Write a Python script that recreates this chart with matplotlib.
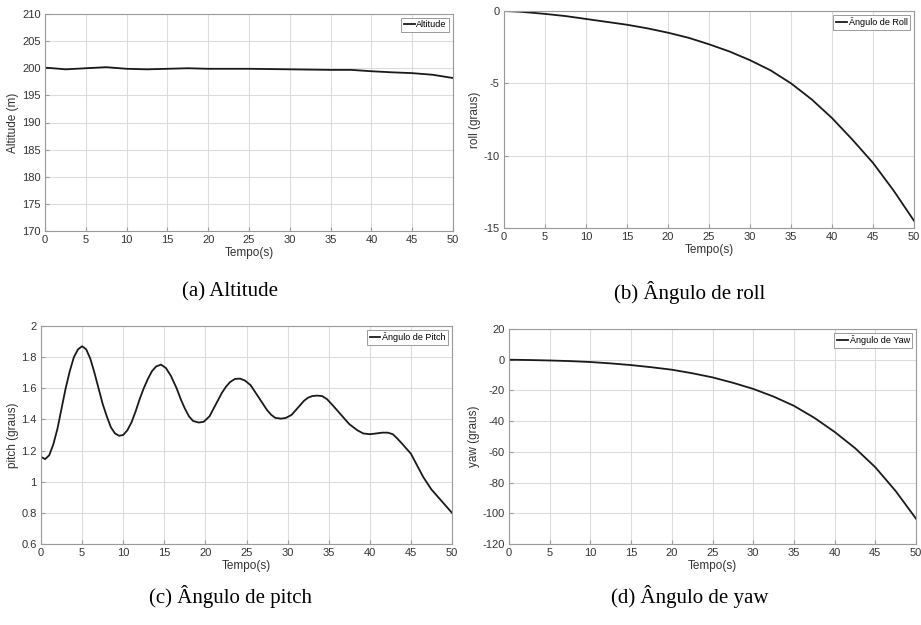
import matplotlib.pyplot as plt

plt.rcParams['font.family'] = ['Liberation Sans', 'DejaVu Sans']

# Altitude (m)
alt_t = [0, 1, 2.5, 5, 7.5, 10, 12.5, 15, 17.5, 20, 25, 30, 35, 37.5, 40, 42.5, 45, 47.5, 50]
alt_v = [200.1, 200.0, 199.8, 200.0, 200.2, 199.9, 199.8, 199.9, 200.0, 199.9, 199.9, 199.8, 199.7,
         199.7, 199.45, 199.25, 199.1, 198.8, 198.2]

# roll (graus)
roll_t = [0, 2, 5, 7.5, 10, 12.5, 15, 17.5, 20, 22.5, 25, 27.5, 30, 32.5, 35, 37.5, 40, 42.5, 45, 47.5, 50]
roll_v = [0, -0.05, -0.2, -0.35, -0.55, -0.75, -0.95, -1.2, -1.5, -1.85, -2.3, -2.8, -3.4, -4.1,
          -5.0, -6.1, -7.4, -8.9, -10.5, -12.4, -14.5]

# pitch (graus)
pitch_t = [0, 0.5, 1, 1.5, 2, 2.5, 3, 3.5, 4, 4.5, 5, 5.5, 6, 6.5, 7, 7.5, 8, 8.5, 9, 9.5,
           10, 10.5, 11, 11.5, 12, 12.5, 13, 13.5, 14, 14.6, 15.2, 15.8, 16.5, 17, 17.5, 18, 18.5,
           19.2, 19.8, 20.5, 21, 21.5, 22, 22.5, 23, 23.6, 24.2, 24.8, 25.5, 26, 26.5, 27, 27.5,
           28, 28.5, 29.2, 29.8, 30.5, 31, 31.5, 32, 32.5, 33, 33.6, 34.2, 34.8, 35.5, 36, 36.5,
           37, 37.5, 38, 38.5, 39.2, 40, 40.8, 41.5, 42.2, 42.8, 43.3, 44, 44.5, 45, 45.5, 46,
           46.5, 47, 47.5, 48, 48.5, 49, 49.5, 50]
pitch_v = [1.16, 1.145, 1.17, 1.24, 1.34, 1.47, 1.6, 1.71, 1.8, 1.85, 1.87, 1.85, 1.79, 1.7, 1.6,
           1.5, 1.42, 1.35, 1.31, 1.295, 1.30, 1.33, 1.38, 1.45, 1.53, 1.6, 1.66, 1.71, 1.74, 1.752,
           1.73, 1.68, 1.6, 1.53, 1.47, 1.42, 1.39, 1.38, 1.385, 1.42, 1.47, 1.52, 1.57, 1.61, 1.64,
           1.66, 1.662, 1.65, 1.62, 1.58, 1.54, 1.50, 1.46, 1.43, 1.41, 1.405, 1.41, 1.43, 1.46,
           1.49, 1.52, 1.54, 1.55, 1.553, 1.55, 1.53, 1.49, 1.46, 1.43, 1.40, 1.37, 1.35, 1.33,
           1.31, 1.305, 1.31, 1.315, 1.315, 1.305, 1.28, 1.24, 1.21, 1.18, 1.13, 1.08, 1.03, 0.99,
           0.95, 0.92, 0.89, 0.86, 0.83, 0.80]

# yaw (graus)
yaw_t = [0, 2.5, 5, 7.5, 10, 12.5, 15, 17.5, 20, 22.5, 25, 27.5, 30, 32.5, 35, 37.5, 40, 42.5, 45, 47.5, 50]
yaw_v = [0, -0.2, -0.5, -0.9, -1.5, -2.4, -3.5, -4.9, -6.5, -8.8, -11.5, -15, -19, -24, -30,
         -37.8, -47, -57.5, -70, -85.5, -103.5]

xticks = list(range(0, 51, 5))

panels = [
    # data, ylabel, legend, ylim, yticks, axes rect (px: left, top, right, bottom), caption, caption pos
    (alt_t, alt_v, 'Altitude (m)', 'Altitude', (170, 210), range(170, 211, 5),
     (45, 14, 453, 231), '(a) Altitude', (230, 292)),
    (roll_t, roll_v, 'roll (graus)', 'Ângulo de Roll', (-15, 0), [-15, -10, -5, 0],
     (504, 11, 914, 228), '(b) Ângulo de roll', (690, 292)),
    (pitch_t, pitch_v, 'pitch (graus)', 'Ângulo de Pitch', (0.6, 2), [0.6, 0.8, 1, 1.2, 1.4, 1.6, 1.8, 2],
     (41, 326, 452, 544), '(c) Ângulo de pitch', (230, 597)),
    (yaw_t, yaw_v, 'yaw (graus)', 'Ângulo de Yaw', (-120, 20), range(-120, 21, 20),
     (509, 329, 916, 544), '(d) Ângulo de yaw', (690, 597)),
]

W, H = 921, 625
fig = plt.figure(figsize=(W / 100, H / 100), dpi=100)
fig.patch.set_facecolor('white')

for t, v, ylab, leg, ylim, yt, (l, tp, r, b), cap, (cx, cy) in panels:
    ax = fig.add_axes([l / W, 1 - b / H, (r - l) / W, (b - tp) / H])
    ax.plot(t, v, color='#1a1a1a', lw=1.3, label=leg)
    ax.set_xlim(0, 50)
    ax.set_ylim(*ylim)
    ax.set_xticks(xticks)
    ax.set_yticks(list(yt))
    ax.set_yticklabels([('%g' % y) for y in yt])
    ax.grid(True, color='#dcdcdc', lw=0.8)
    ax.set_axisbelow(True)
    for s in ax.spines.values():
        s.set_color('#9a9a9a')
        s.set_linewidth(0.8)
    ax.tick_params(direction='in', length=3, color='#9a9a9a', labelsize=8, labelcolor='#333333', pad=3)
    ax.set_xlabel('Tempo(s)', fontsize=8.5, color='#333333', labelpad=1)
    ax.set_ylabel(ylab, fontsize=8.5, color='#333333', labelpad=2)
    lg = ax.legend(loc='upper right', fontsize=6.5, handlelength=1.2, handletextpad=0.2,
                   borderpad=0.3, fancybox=False, framealpha=1, borderaxespad=0.4)
    lg.get_frame().set_edgecolor('#9a9a9a')
    lg.get_frame().set_linewidth(0.7)
    fig.text(cx / W, 1 - cy / H, cap, ha='center', va='center', fontsize=15,
             family=['Liberation Serif', 'DejaVu Serif'])

fig.savefig('out.png', dpi=100)
